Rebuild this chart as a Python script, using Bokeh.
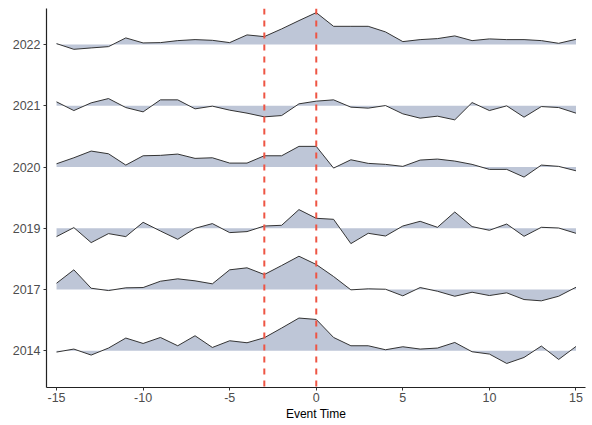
from bokeh.plotting import figure
from bokeh.models import Span, FixedTicker, Range1d
from bokeh.embed import file_html
from bokeh.resources import INLINE

event_time = list(range(-15, 16))
years = ["2014", "2017", "2019", "2020", "2021", "2022"]
x_ticks = [-15, -10, -5, 0, 5, 10, 15]

v2022 = [1, -4.7, -3.3, -2, 6.7, 1.7, 2, 4, 5, 4.3, 2, 9.7, 8, 15.7, 24, 32,
         18.3, 18.3, 18.3, 12.7, 3, 5, 6, 8.7, 4, 5.7, 5, 5, 4, 1.3, 5.3]
v2021 = [4, -4.7, 3, 7.3, -1.7, -6, 6, 6, -3, -0.3, -4.3, -7.3, -11, -9.7, 2, 4.7,
         6, -1.3, -2.3, 0.3, -8, -12.3, -10.3, -14, 3.3, -4.7, 0, -11.3, -0.7, -1.7, -7.3]
v2020 = [3.3, 9.3, 16, 13.3, 2, 11.3, 11.7, 13, 8.7, 9.3, 4, 4, 11.3, 11.3, 20.7, 20.7,
         -1, 7.3, 3.7, 2.7, 0.7, 7, 8, 6, 2.7, -2.3, -2.3, -10, 2, 0.7, -3.7]
v2019 = [-8.3, 0.7, -14.3, -5.3, -8.3, 6, -2.7, -11, 0, 4.7, -4.3, -3.3, 2.3, 3, 18.7, 10,
         9, -15.3, -5, -7.7, 2.3, 7, 1, 16.3, 1.7, -2, 4.3, -8, 1, 0.3, -5]
v2017 = [6.3, 19.7, 1.3, -1, 1.7, 2, 8.3, 10.7, 8.7, 5.7, 19.7, 21.7, 15, 24, 33.3, 25,
         13, -0.3, 0.7, 0.3, -6.3, 2, -1.7, -6.7, -2.7, -6, -3.3, -10, -11.3, -6.7, 2.3]
v2014 = [-1.3, 1.7, -4.3, 2.7, 12.7, 7.3, 13.3, 5, 15, 3.3, 10, 8, 13, 22.7, 32.7, 31.3,
         13.3, 5, 5, 1, 4, 1.7, 2.7, 8.3, -1, -3.3, -12.7, -6.7, 4.7, -8.7, 4.3]
event_lines = [-3, 0]

series = [v2014, v2017, v2019, v2020, v2021, v2022]
scale = 1 / 61.2

p = figure(width=591, height=424, output_backend="svg", toolbar_location=None,
           x_range=Range1d(-15.58, 15.55), y_range=Range1d(-0.6, 5.59),
           min_border_left=46, min_border_right=6, min_border_top=8, min_border_bottom=37)
p.outline_line_color = None
p.xgrid.visible = False
p.ygrid.visible = False

for i in reversed(range(len(years))):
    vals = series[i]
    y2 = [i + v * scale for v in vals]
    p.varea(x=event_time, y1=[i] * len(event_time), y2=y2, fill_color="#BEC6D7", fill_alpha=1)
    p.line(x=event_time, y=y2, line_color="#333333", line_width=1)

for t in event_lines:
    p.add_layout(Span(location=t, dimension="height", line_color="#EE5544",
                      line_width=2, line_dash="6 6"))

p.xaxis.ticker = FixedTicker(ticks=x_ticks)
p.xaxis.major_label_overrides = {t: str(t) for t in x_ticks}
p.yaxis.ticker = FixedTicker(ticks=list(range(len(years))))
p.yaxis.major_label_overrides = {i: y for i, y in enumerate(years)}
p.xaxis.axis_label = "Event Time"

for ax in (p.xaxis, p.yaxis):
    ax.axis_line_color = "#222222"
    ax.axis_line_width = 1.2
    ax.major_tick_line_color = "#333333"
    ax.major_tick_out = 3
    ax.major_tick_in = 0
    ax.minor_tick_line_color = None
    ax.major_label_text_font = "Liberation Sans"
    ax.major_label_text_font_size = "12.5px"
    ax.major_label_text_color = "#4D4D4D"
    ax.axis_label_text_font = "Liberation Sans"
    ax.axis_label_text_font_size = "12px"
    ax.axis_label_text_font_style = "normal"
    ax.axis_label_text_color = "#000000"
p.xaxis.major_label_standoff = 2
p.xaxis.axis_label_standoff = 2
p.yaxis.major_label_standoff = 3

open("out.html", "w").write(file_html(p, INLINE))
